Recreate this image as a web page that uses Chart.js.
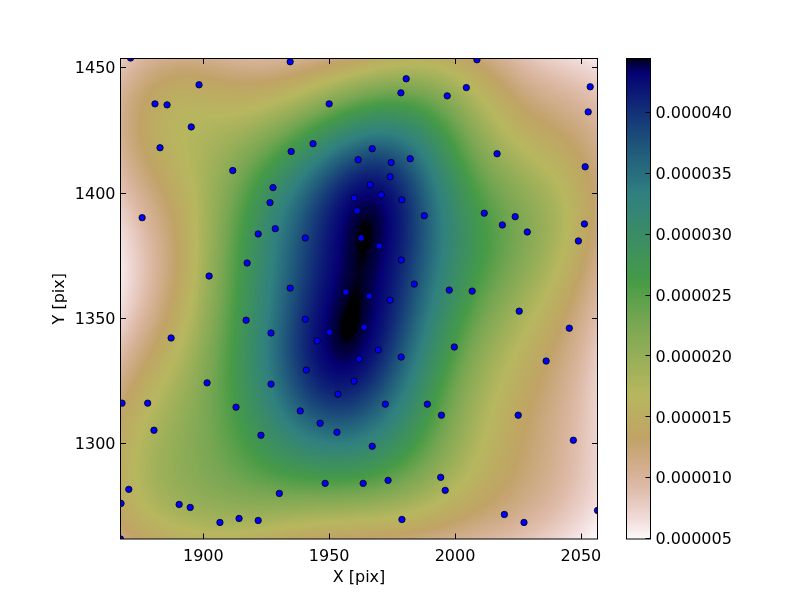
<!DOCTYPE html>
<html><head><meta charset="utf-8">
<script src="https://cdn.jsdelivr.net/npm/chart.js@4/dist/chart.umd.min.js"></script>
<style>
html,body{margin:0;padding:0;background:#fff;}
#wrap{position:relative;width:800px;height:600px;overflow:hidden;}
#main{position:absolute;left:0;top:0;}
#cbar{position:absolute;left:600px;top:0;}
</style></head><body>
<div id="wrap"><canvas id="main" width="800" height="600"></canvas><canvas id="cbar" width="200" height="600"></canvas></div>
<script>
// ---- data ----
const pointsX = [1871.1,1898.3,1880.8,1885.6,1895.2,1882.8,1911.7,1927.7,1926.5,1875.7,
  1934.5,1980.6,1978.5,1950.0,1943.6,1934.9,1967.1,1961.5,1974.6,1982.2,
  1974.2,1966.3,1959.9,1970.7,1978.9,1961.1,1987.8,2008.7,2004.5,1996.9,
  2053.7,2052.9,2016.7,2051.7,2011.6,2023.9,1921.8,1928.6,1917.4,1902.3,
  1917.0,1926.9,1887.2,1940.5,1962.7,1969.9,1978.6,1983.8,1934.5,1956.6,
  1965.9,1974.2,1940.5,1963.9,1950.0,1945.2,1969.5,1961.9,1978.6,1940.9,
  1959.9,2018.8,2028.7,2051.4,2049.0,1997.7,2006.8,2025.5,2045.4,1999.7,
  2036.2,1901.5,1926.9,1867.7,1877.9,1913.0,1880.4,1922.9,1870.4,1867.3,
  1890.4,1894.8,1930.2,1906.6,1914.2,1921.8,1867.1,1953.5,1938.5,1972.3,
  1989.0,1994.6,1946.4,1953.1,1967.1,1948.4,1963.5,1973.4,1994.3,1978.9,
  2025.1,2047.0,1996.1,2019.6,2027.4,2056.6];
const pointsY = [1453.7,1443.0,1435.4,1435.0,1426.2,1417.9,1408.8,1402.0,1396.0,1390.0,
  1452.2,1445.4,1439.8,1435.4,1419.5,1416.4,1417.5,1413.1,1412.0,1413.5,
  1406.3,1403.1,1397.9,1399.1,1397.1,1392.7,1390.8,1453.0,1441.9,1438.6,
  1442.2,1432.2,1415.5,1410.3,1391.8,1390.4,1383.5,1385.6,1371.9,1366.7,
  1349.1,1344.0,1342.0,1381.9,1381.9,1378.7,1373.1,1363.5,1361.9,1360.3,
  1358.7,1357.1,1349.5,1346.3,1344.3,1340.8,1337.2,1333.6,1334.4,1329.2,
  1324.8,1387.1,1384.3,1387.5,1380.7,1361.1,1360.7,1352.7,1345.9,1338.4,
  1332.8,1324.1,1323.6,1316.0,1316.0,1314.4,1305.2,1303.2,1281.6,1276.0,
  1275.6,1274.4,1280.0,1268.4,1270.0,1269.2,1261.8,1319.6,1312.9,1315.6,
  1315.6,1311.2,1308.0,1304.4,1298.8,1284.0,1284.0,1285.2,1286.4,1269.6,
  1311.2,1301.2,1281.2,1271.6,1268.4,1273.2];
const xTicks = [1900, 1950, 2000, 2050];
const yTicks = [1300, 1350, 1400, 1450];
const cbTicks = [0.000005, 0.000010, 0.000015, 0.000020, 0.000025, 0.000030, 0.000035, 0.000040];
const xRange = [1867.1, 2056.6];
const yRange = [1261.8, 1453.5];
const cbRange = [4.94e-6, 4.437e-5];
const xLabel = 'X [pix]';
const yLabel = 'Y [pix]';

// ---- Gaussian KDE of the plotted points (Scott's rule), as in the reference ----
const n = pointsX.length;
const mx = pointsX.reduce((a,b)=>a+b,0)/n, my = pointsY.reduce((a,b)=>a+b,0)/n;
let cxx=0, cyy=0, cxy=0;
for (let i=0;i<n;i++){const dx=pointsX[i]-mx, dy=pointsY[i]-my; cxx+=dx*dx; cyy+=dy*dy; cxy+=dx*dy;}
cxx/=(n-1); cyy/=(n-1); cxy/=(n-1);
const f2 = Math.pow(n, -2/6);
const sxx=cxx*f2, syy=cyy*f2, sxy=cxy*f2;
const det = sxx*syy - sxy*sxy;
const ixx = syy/det, iyy = sxx/det, ixy = -sxy/det;
const norm = 1/(2*Math.PI*Math.sqrt(det)*n);
function kde(x,y){
  let s=0;
  for (let i=0;i<n;i++){const dx=x-pointsX[i], dy=y-pointsY[i];
    s+=Math.exp(-0.5*(ixx*dx*dx+2*ixy*dx*dy+iyy*dy*dy));}
  return s*norm;
}
const NX=240, NY=240;
const gdx=(xRange[1]-xRange[0])/NX, gdy=(yRange[1]-yRange[0])/NY;
const grid=[];
for (let i=0;i<NX;i++){const row=[]; for(let j=0;j<NY;j++){
  row.push(kde(xRange[0]+(i+0.5)*gdx, yRange[0]+(j+0.5)*gdy));} grid.push(row);}

// ---- gist_earth_r colormap ----
const GE = {
  r:[[0,0],[0.2824,0.1882],[0.4588,0.2714],[0.5490,0.4719],[0.6980,0.7176],[0.7882,0.7553],[1,0.9922]],
  g:[[0,0],[0.0275,0],[0.1098,0.1893],[0.1647,0.3035],[0.2078,0.3841],[0.2824,0.5020],[0.5216,0.6397],
     [0.6980,0.7171],[0.7882,0.6392],[0.7922,0.6413],[0.8000,0.6447],[0.8078,0.6481],[0.8157,0.6549],
     [0.8667,0.6991],[0.8745,0.7103],[0.8824,0.7216],[0.8902,0.7323],[0.8980,0.7430],[0.9412,0.8275],
     [0.9569,0.8635],[0.9647,0.8816],[0.9961,0.9733],[1,0.9843]],
  b:[[0,0],[0.0039,0.1684],[0.0078,0.2212],[0.0275,0.4329],[0.0314,0.4549],[0.2824,0.5004],[0.4667,0.2748],
     [0.5451,0.3205],[0.7843,0.3961],[0.8941,0.6651],[1,0.9843]]
};
function seg(a,t){for(let k=1;k<a.length;k++){if(t<=a[k][0]){const t0=a[k-1][0],v0=a[k-1][1],t1=a[k][0],v1=a[k][1];return v0+(v1-v0)*(t-t0)/(t1-t0);}}return a[a.length-1][1];}
function color(v){
  let t=(v-cbRange[0])/(cbRange[1]-cbRange[0]); t=Math.max(0,Math.min(1,t));
  const s=1-t;
  return 'rgb('+Math.round(seg(GE.r,s)*255)+','+Math.round(seg(GE.g,s)*255)+','+Math.round(seg(GE.b,s)*255)+')';
}

Chart.defaults.font.family = "'DejaVu Sans', sans-serif";
Chart.defaults.font.size = 16;
Chart.defaults.color = '#000';

const heatPlugin = {
  id:'heat',
  beforeDatasetsDraw(chart){
    const {ctx, chartArea:a, scales:{x,y}} = chart;
    ctx.save(); ctx.beginPath(); ctx.rect(a.left,a.top,a.right-a.left,a.bottom-a.top); ctx.clip();
    for (let i=0;i<NX;i++){
      const p0=Math.floor(x.getPixelForValue(xRange[0]+i*gdx)), p1=Math.ceil(x.getPixelForValue(xRange[0]+(i+1)*gdx));
      for (let j=0;j<NY;j++){
        const q0=Math.ceil(y.getPixelForValue(yRange[0]+j*gdy)), q1=Math.floor(y.getPixelForValue(yRange[0]+(j+1)*gdy));
        ctx.fillStyle=color(grid[i][j]);
        ctx.fillRect(p0,q1,p1-p0,q0-q1);
      }
    }
    ctx.restore();
  }
};
const framePlugin = {
  id:'frame',
  afterDatasetsDraw(chart){
    const {ctx, chartArea:a, scales:{x,y}} = chart;
    ctx.save(); ctx.strokeStyle='#000'; ctx.lineWidth=1;
    ctx.beginPath();
    xTicks.forEach(v=>{const p=Math.round(x.getPixelForValue(v))+0.5;
      ctx.moveTo(p,a.bottom); ctx.lineTo(p,a.bottom-5.5); ctx.moveTo(p,a.top); ctx.lineTo(p,a.top+5.5);});
    yTicks.forEach(v=>{const p=Math.round(y.getPixelForValue(v))+0.5;
      ctx.moveTo(a.left,p); ctx.lineTo(a.left+5.5,p); ctx.moveTo(a.right,p); ctx.lineTo(a.right-5.5,p);});
    ctx.stroke();
    ctx.strokeRect(a.left,a.top,a.right-a.left,a.bottom-a.top);
    ctx.restore();
  }
};

new Chart(document.getElementById('main'), {
  type:'scatter',
  data:{datasets:[{data:pointsX.map((v,i)=>({x:v,y:pointsY[i]})), backgroundColor:'#0000ff',
    borderColor:'#000', borderWidth:0.8, pointRadius:3.2, clip:0}]},
  options:{
    responsive:false, animation:false, events:[],
    plugins:{legend:{display:false}, tooltip:{enabled:false}},
    layout:{padding:{left:0, top:58.5, right:202.5, bottom:0}},
    scales:{
      x:{type:'linear', min:xRange[0], max:xRange[1],
        afterFit(s){s.height=61;},
        afterBuildTicks(s){s.ticks=xTicks.map(v=>({value:v}));},
        grid:{display:false, drawTicks:false}, border:{display:false},
        ticks:{padding:8, maxRotation:0, autoSkip:false, callback:v=>String(v)},
        title:{display:true, text:xLabel, padding:{top:0,bottom:13}}
      },
      y:{type:'linear', min:yRange[0], max:yRange[1],
        afterFit(s){s.width=120.5;},
        afterBuildTicks(s){s.ticks=yTicks.map(v=>({value:v}));},
        grid:{display:false, drawTicks:false}, border:{display:false},
        ticks:{padding:5, labelOffset:2, autoSkip:false, callback:v=>String(v)},
        title:{display:true, text:yLabel, padding:{top:50,bottom:0}}
      }
    }
  },
  plugins:[heatPlugin, framePlugin]
});

const cbPlugin = {
  id:'cb',
  beforeDatasetsDraw(chart){
    const {ctx, chartArea:a, scales:{y}} = chart;
    const N=400, step=(cbRange[1]-cbRange[0])/N;
    for (let k=0;k<N;k++){
      const v0=cbRange[0]+k*step, v1=v0+step;
      const q0=Math.ceil(y.getPixelForValue(v0)), q1=Math.floor(y.getPixelForValue(v1));
      ctx.fillStyle=color(v0+step/2);
      ctx.fillRect(a.left,q1,a.right-a.left,q0-q1);
    }
  },
  afterDatasetsDraw(chart){
    const {ctx, chartArea:a, scales:{y}} = chart;
    ctx.save(); ctx.strokeStyle='#000'; ctx.lineWidth=1; ctx.beginPath();
    cbTicks.forEach(v=>{const p=Math.round(y.getPixelForValue(v))+0.5; ctx.moveTo(a.right,p); ctx.lineTo(a.right-5,p);});
    ctx.stroke();
    ctx.strokeRect(a.left,a.top,a.right-a.left,a.bottom-a.top);
    ctx.restore();
  }
};
new Chart(document.getElementById('cbar'), {
  type:'scatter',
  data:{datasets:[{data:[]}]},
  options:{
    responsive:false, animation:false, events:[],
    plugins:{legend:{display:false}, tooltip:{enabled:false}},
    layout:{padding:{left:26.5, top:58.5, right:0, bottom:61}},
    scales:{
      x:{display:false, min:0, max:1},
      y:{type:'linear', position:'right', min:cbRange[0], max:cbRange[1],
        afterFit(s){s.width=149.5;},
        afterBuildTicks(s){s.ticks=cbTicks.map(v=>({value:v}));},
        grid:{display:false, drawTicks:false}, border:{display:false},
        ticks:{padding:5, labelOffset:2, autoSkip:false, callback:v=>v.toFixed(6)}
      }
    }
  },
  plugins:[cbPlugin]
});
</script>
</body></html>
